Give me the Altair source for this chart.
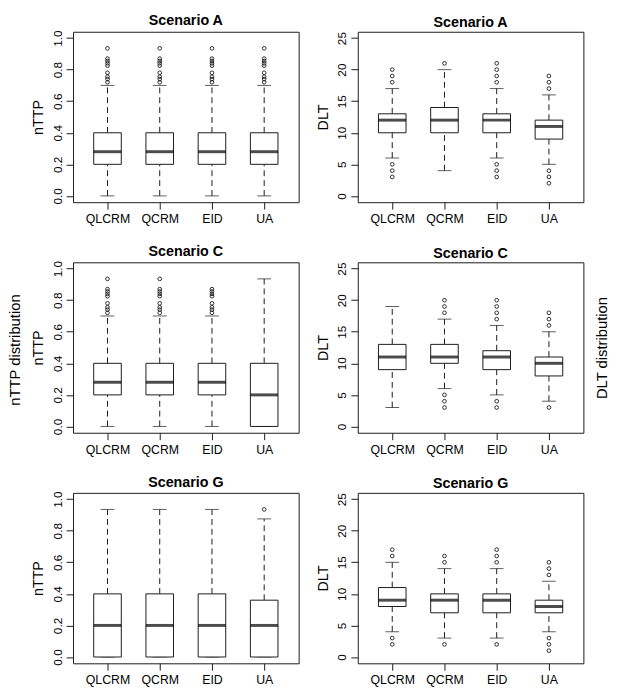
import altair as alt
import pandas as pd

methods = ["QLCRM", "QCRM", "EID", "UA"]

nttp_ticks = [0.0, 0.2, 0.4, 0.6, 0.8, 1.0]
dlt_ticks = [0, 5, 10, 15, 20, 25]

# ---------------- nTTP ----------------
nttp_tail = [0.72, 0.74, 0.755, 0.78, 0.825, 0.84, 0.855, 0.87, 0.935]

nttpA_lo = [0.0, 0.0, 0.0, 0.0]
nttpA_q1 = [0.2, 0.2, 0.2, 0.2]
nttpA_med = [0.28, 0.28, 0.28, 0.28]
nttpA_q3 = [0.4, 0.4, 0.4, 0.4]
nttpA_hi = [0.7, 0.7, 0.7, 0.7]
nttpA_out = {"QLCRM": nttp_tail, "QCRM": nttp_tail, "EID": nttp_tail, "UA": nttp_tail}

nttpC_lo = [0.0, 0.0, 0.0, 0.0]
nttpC_q1 = [0.2, 0.2, 0.2, 0.0]
nttpC_med = [0.28, 0.28, 0.28, 0.2]
nttpC_q3 = [0.4, 0.4, 0.4, 0.4]
nttpC_hi = [0.7, 0.7, 0.7, 0.935]
nttpC_out = {"QLCRM": nttp_tail, "QCRM": nttp_tail,
             "EID": [0.72, 0.74, 0.755, 0.78, 0.825, 0.84, 0.855, 0.87], "UA": []}

nttpG_lo = [0.0, 0.0, 0.0, 0.0]
nttpG_q1 = [0.0, 0.0, 0.0, 0.0]
nttpG_med = [0.2, 0.2, 0.2, 0.2]
nttpG_q3 = [0.4, 0.4, 0.4, 0.36]
nttpG_hi = [0.935, 0.935, 0.935, 0.875]
nttpG_out = {"QLCRM": [], "QCRM": [], "EID": [], "UA": [0.935]}

# ---------------- DLT ----------------
dltA_lo = [6, 4, 6, 5]
dltA_q1 = [10, 10, 10, 9]
dltA_med = [12, 12, 12, 11]
dltA_q3 = [13, 14, 13, 12]
dltA_hi = [17, 20, 17, 16]
dltA_out = {"QLCRM": [3, 4, 5, 18, 19, 20], "QCRM": [21],
            "EID": [3, 4, 5, 18, 19, 20, 21], "UA": [2, 3, 4, 17, 18, 19]}

dltC_lo = [3, 6, 5, 4]
dltC_q1 = [9, 10, 9, 8]
dltC_med = [11, 11, 11, 10]
dltC_q3 = [13, 13, 12, 11]
dltC_hi = [19, 17, 16, 15]
dltC_out = {"QLCRM": [], "QCRM": [3, 4, 5, 18, 19, 20],
            "EID": [3, 4, 17, 18, 19, 20], "UA": [3, 16, 17, 18]}

dltG_lo = [4, 3, 3, 4]
dltG_q1 = [8, 7, 7, 7]
dltG_med = [9, 9, 9, 8]
dltG_q3 = [11, 10, 10, 9]
dltG_hi = [15, 14, 14, 12]
dltG_out = {"QLCRM": [2, 3, 16, 17], "QCRM": [2, 15, 16],
            "EID": [2, 15, 16, 17], "UA": [1, 2, 3, 13, 14, 15]}

FONT = "Liberation Sans"
INK = "#1a1a1a"
PW, PH = 229, 173


def panel(title, lo, q1, med, q3, hi, outl, ytitle, domain, ticks, fmt, side_title=None):
    df = pd.DataFrame({"method": methods, "lo": lo, "q1": q1, "med": med, "q3": q3, "hi": hi})
    odf = pd.DataFrame([(m, v) for m in methods for v in outl[m]], columns=["method", "value"])
    xaxis = alt.Axis(labelAngle=0, tickSize=7, labelPadding=4, domain=False, grid=False,
                     labelFontSize=12.5, labelColor="black", tickColor=INK, title=None)
    x = alt.X("method:N", sort=methods, scale=alt.Scale(type="point", padding=0.66),
              axis=xaxis, title=None)
    yscale = alt.Scale(domain=domain, nice=False, zero=False)
    yaxis = alt.Axis(values=ticks, format=fmt, labelAngle=270, labelAlign="center",
                     labelBaseline="bottom", tickSize=7, labelPadding=2, domain=False,
                     grid=False, labelFlush=False, labelOverlap=False,
                     labelFontSize=12, labelColor="black", tickColor=INK,
                     titleFontSize=14.5, titleFontWeight="normal", titleColor="black",
                     titlePadding=6)
    y = lambda f: alt.Y(f, scale=yscale, axis=yaxis, title=ytitle)
    base = alt.Chart(df)
    up = base.mark_rule(strokeDash=[6, 4], color=INK, strokeWidth=1).encode(
        x=x, y=y("q3:Q"), y2="hi:Q")
    dn = base.mark_rule(strokeDash=[6, 4], color=INK, strokeWidth=1).encode(
        x=x, y=y("lo:Q"), y2="q1:Q")
    cap_hi = base.mark_tick(size=14, thickness=1, color=INK).encode(x=x, y=y("hi:Q"))
    cap_lo = base.mark_tick(size=14, thickness=1, color=INK).encode(x=x, y=y("lo:Q"))
    box = base.mark_bar(size=28, fill="white", stroke=INK, strokeWidth=1).encode(
        x=x, y=y("q1:Q"), y2="q3:Q")
    mid = base.mark_tick(size=28, thickness=3, color="black").encode(x=x, y=y("med:Q"))
    pts = alt.Chart(odf).mark_point(shape="circle", filled=False, size=14, color=INK,
                                    strokeWidth=0.9, opacity=1).encode(x=x, y=y("value:Q"))
    ch = alt.layer(up, dn, cap_hi, cap_lo, box, mid, pts)
    if side_title:
        side_axis = alt.Axis(orient="right", labels=False, ticks=False, domain=False, grid=False,
                             title=side_title, titleAngle=270, titleBaseline="top",
                             titleFontSize=15, titleFontWeight="normal", titleColor="black",
                             titlePadding=11)
        ghost = base.mark_tick(opacity=0).encode(
            x=x, y=alt.Y("med:Q", scale=yscale, axis=side_axis, title=side_title))
        ch = alt.layer(ch, ghost).resolve_scale(y="independent")
    return ch.properties(
        width=PW, height=PH,
        title=alt.TitleParams(title, fontSize=14.5, fontWeight="bold", font=FONT,
                              color="black", anchor="middle", frame="group", offset=1))


nd = [-0.04, 1.04]
dd = [-1, 26]

chart = alt.concat(
    panel("Scenario A", nttpA_lo, nttpA_q1, nttpA_med, nttpA_q3, nttpA_hi, nttpA_out, "nTTP", nd, nttp_ticks, ".1f"),
    panel("Scenario A", dltA_lo, dltA_q1, dltA_med, dltA_q3, dltA_hi, dltA_out, "DLT", dd, dlt_ticks, "d"),
    panel("Scenario C", nttpC_lo, nttpC_q1, nttpC_med, nttpC_q3, nttpC_hi, nttpC_out, "nTTP", nd, nttp_ticks, ".1f"),
    panel("Scenario C", dltC_lo, dltC_q1, dltC_med, dltC_q3, dltC_hi, dltC_out, "DLT", dd, dlt_ticks, "d",
          side_title="DLT distribution"),
    panel("Scenario G", nttpG_lo, nttpG_q1, nttpG_med, nttpG_q3, nttpG_hi, nttpG_out, "nTTP", nd, nttp_ticks, ".1f"),
    panel("Scenario G", dltG_lo, dltG_q1, dltG_med, dltG_q3, dltG_hi, dltG_out, "DLT", dd, dlt_ticks, "d"),
    columns=2, spacing={"row": 61, "column": 60}, bounds="flush",
    padding=0, background="white",
    title=alt.TitleParams("nTTP distribution", orient="left", fontSize=15,
                          fontWeight="normal", font=FONT, color="black", anchor="middle", offset=7),
).configure_view(
    stroke=INK, strokeWidth=1
).configure_axis(labelFont=FONT, titleFont=FONT).configure_title(font=FONT)

chart.save("out.html", embed_options={"renderer": "svg", "actions": False})
